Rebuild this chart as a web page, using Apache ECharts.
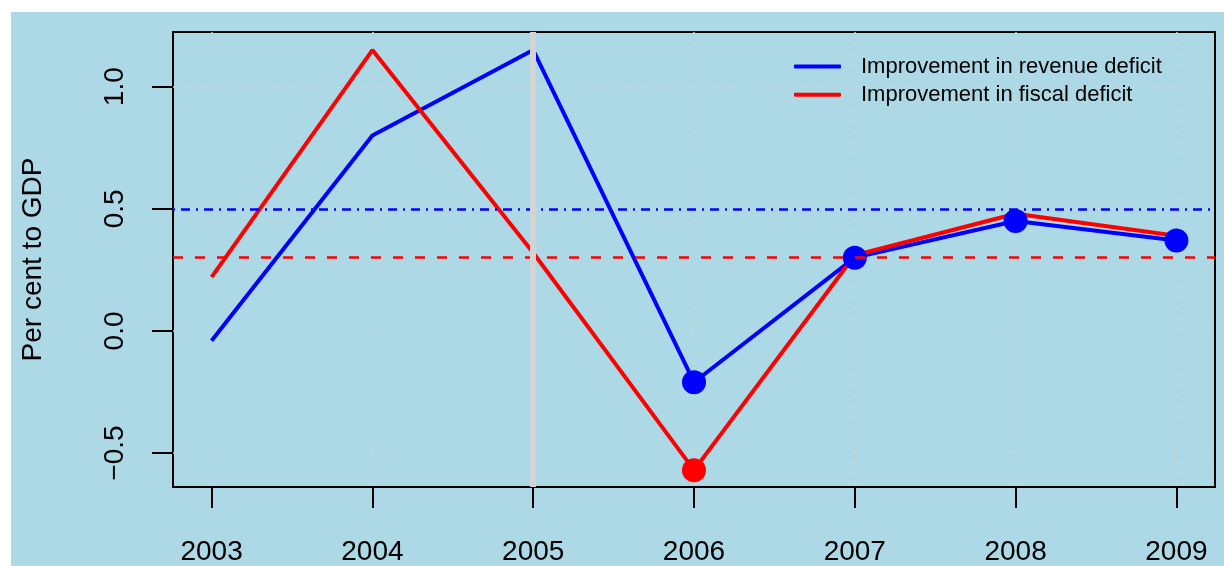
<!DOCTYPE html>
<html>
<head>
<meta charset="utf-8">
<script src="https://cdn.jsdelivr.net/npm/echarts@6/dist/echarts.min.js"></script>
<style>
  html, body { margin: 0; padding: 0; background: #ffffff; overflow: hidden; }
  #chart { position: absolute; left: 11px; top: 12px; width: 1213px; height: 554px; }
</style>
</head>
<body>
<div id="chart"></div>
<script>
// Years on the horizontal axis
const years = [2003, 2004, 2005, 2006, 2007, 2008, 2009];
// Improvement in revenue deficit (per cent to GDP)
const revenueDeficit = [-0.04, 0.80, 1.15, -0.21, 0.30, 0.45, 0.37];
// Improvement in fiscal deficit (per cent to GDP)
const fiscalDeficit = [0.22, 1.15, 0.32, -0.57, 0.31, 0.48, 0.39];
// Years highlighted with filled markers
const revenueMarkedYears = [2006, 2007, 2008, 2009];
const fiscalMarkedYears = [2006];
// Reference levels
const revenueReference = 0.5;
const fiscalReference = 0.3;
const highlightYear = 2005;
// Axis tick values
const xTickValues = years;
const yTickValues = [-0.5, 0.0, 0.5, 1.0];

const seriesNames = ['Improvement in revenue deficit', 'Improvement in fiscal deficit'];
const FONT = '"Liberation Sans", Arial, Helvetica, sans-serif';

const pairs = (vals) => years.map((y, i) => [y, vals[i]]);
const marked = (vals, sel) => years.map((y, i) => [y, vals[i]]).filter(p => sel.includes(p[0]));

const chart = echarts.init(document.getElementById('chart'), null, { renderer: 'canvas' });

chart.setOption({
  animation: false,
  backgroundColor: '#ADD8E6',
  textStyle: { fontFamily: FONT },
  grid: {
    left: 162, width: 1042, top: 20, height: 460,
    show: true, borderColor: '#000000', borderWidth: 2, backgroundColor: 'transparent'
  },
  legend: {
    orient: 'vertical',
    left: 778, top: 38.5,
    itemWidth: 47, itemHeight: 4, itemGap: 6.3,
    icon: 'roundRect',
    data: seriesNames,
    textStyle: { fontFamily: FONT, fontSize: 22, color: '#000000', lineHeight: 22, padding: [0, 0, 0, 15] }
  },
  xAxis: {
    type: 'value',
    min: 2002.76, max: 2009.24,
    axisLine: { show: false, onZero: false },
    axisTick: { show: true, customValues: xTickValues, length: 21, lineStyle: { color: '#000', width: 2 } },
    axisLabel: {
      customValues: xTickValues, margin: 51,
      fontFamily: FONT, fontSize: 28, color: '#000',
      formatter: v => String(v)
    },
    splitLine: { show: true, lineStyle: { color: '#D3D3D3', width: 1.5, type: [2, 9] } }
  },
  yAxis: {
    type: 'value',
    min: -0.639, max: 1.224,
    name: 'Per cent to GDP',
    nameLocation: 'middle', nameRotate: 90, nameGap: 126,
    nameTextStyle: { fontFamily: FONT, fontSize: 28, color: '#000' },
    axisLine: { show: false, onZero: false },
    axisTick: { show: true, customValues: yTickValues, length: 21, lineStyle: { color: '#000', width: 2 } },
    axisLabel: {
      customValues: yTickValues, rotate: 90, margin: 44,
      fontFamily: FONT, fontSize: 28, color: '#000',
      formatter: v => (v < 0 ? '\u2212' : '') + Math.abs(v).toFixed(1)
    },
    splitLine: { show: true, lineStyle: { color: '#D3D3D3', width: 1.5, type: [2, 9] } }
  },
  series: [
    {
      name: seriesNames[0], type: 'line', z: 2,
      data: pairs(revenueDeficit),
      showSymbol: false, symbol: 'none',
      itemStyle: { color: '#0000FF' },
      lineStyle: { color: '#0000FF', width: 4 }
    },
    {
      name: seriesNames[1], type: 'line', z: 3,
      data: pairs(fiscalDeficit),
      showSymbol: false, symbol: 'none',
      itemStyle: { color: '#FF0000' },
      lineStyle: { color: '#FF0000', width: 4 }
    },
    {
      name: 'fiscal-markers', type: 'scatter', z: 4,
      data: marked(fiscalDeficit, fiscalMarkedYears),
      symbol: 'circle', symbolSize: 24,
      itemStyle: { color: '#FF0000', opacity: 1 }
    },
    {
      name: 'revenue-markers', type: 'scatter', z: 4,
      data: marked(revenueDeficit, revenueMarkedYears),
      symbol: 'circle', symbolSize: 24,
      itemStyle: { color: '#0000FF', opacity: 1 }
    },
    {
      name: 'reference-lines', type: 'line', z: 5,
      data: [],
      markLine: {
        silent: true, symbol: 'none', animation: false,
        label: { show: false },
        data: [
          { yAxis: revenueReference, lineStyle: { color: '#0000FF', width: 2.5, type: [2, 6, 9, 6] } },
          { yAxis: fiscalReference, lineStyle: { color: '#FF0000', width: 2.5, type: [10, 12] } },
          { xAxis: highlightYear, lineStyle: { color: '#D3D3D3', width: 6, type: 'solid' } }
        ]
      }
    }
  ]
});
</script>
</body>
</html>
